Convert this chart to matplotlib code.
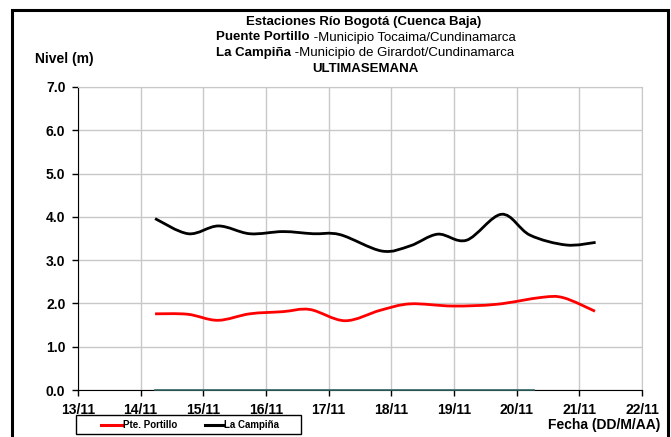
import matplotlib.pyplot as plt
import numpy as np
from matplotlib.patches import Rectangle, PathPatch
from matplotlib.path import Path
from matplotlib.lines import Line2D

# datos (dia de noviembre, nivel en m)
dias_campina = [14.23, 14.76, 15.24, 15.74, 16.27, 16.75, 17.18, 17.85,
                18.30, 18.74, 19.20, 19.76, 20.21, 20.79, 21.26]
nivel_campina = [3.96, 3.61, 3.79, 3.61, 3.66, 3.61, 3.59, 3.21,
                 3.33, 3.60, 3.46, 4.06, 3.58, 3.35, 3.41]

dias_portillo = [14.23, 14.75, 15.23, 15.74, 16.27, 16.70, 17.26, 17.82,
                 18.30, 18.98, 19.68, 20.40, 20.75, 21.25]
nivel_portillo = [1.76, 1.75, 1.61, 1.76, 1.81, 1.86, 1.60, 1.84,
                  1.99, 1.94, 1.98, 2.14, 2.13, 1.82]

# serie sin datos (en cero)
dias_cero = [14.23, 20.28]
nivel_cero = [0.0, 0.0]

ticks_x = list(range(13, 23))
etiquetas_x = [f'{d}/11' for d in ticks_x]
ticks_y = [0, 1, 2, 3, 4, 5, 6, 7]

plt.rcParams['font.family'] = ['Liberation Sans', 'DejaVu Sans']


def linea_suave(ax, xs, ys, **kw):
    # linea suavizada tipo Excel (Catmull-Rom -> Bezier cubica)
    p = np.column_stack([xs, ys])
    verts = [p[0]]
    codes = [Path.MOVETO]
    for i in range(len(p) - 1):
        p0 = p[i - 1] if i > 0 else p[i]
        p3 = p[i + 2] if i + 2 < len(p) else p[i + 1]
        c1 = p[i] + (p[i + 1] - p0) / 6
        c2 = p[i + 1] - (p3 - p[i]) / 6
        verts += [c1, c2, p[i + 1]]
        codes += [Path.CURVE4] * 3
    ax.add_patch(PathPatch(Path(verts, codes), fill=False, capstyle='butt', joinstyle='round', **kw))


fig = plt.figure(figsize=(6.71, 4.37), dpi=100)
ax = fig.add_axes([78 / 671, 1 - 390 / 437, 564 / 671, 303 / 437])

ax.plot(dias_cero, nivel_cero, color='#336666', lw=1.2, zorder=3, clip_on=False)
linea_suave(ax, dias_portillo, nivel_portillo, edgecolor='#ff0000', lw=2.0, zorder=4)
linea_suave(ax, dias_campina, nivel_campina, edgecolor='black', lw=2.0, zorder=4)

ax.set_xlim(13, 22)
ax.set_ylim(0, 7)
ax.set_xticks(ticks_x)
ax.set_xticklabels(etiquetas_x)
ax.set_yticks(ticks_y)
ax.set_yticklabels([f'{v:.1f}' for v in ticks_y])
ax.grid(True, color='#c8c8c8', lw=1.0)
ax.set_axisbelow(True)
for lab in ax.get_xticklabels() + ax.get_yticklabels():
    lab.set_fontweight('bold')
    lab.set_fontsize(10)
ax.tick_params(axis='both', direction='out', length=4, width=1, colors='black', pad=5)
ax.spines['top'].set_color('#c8c8c8')
ax.spines['right'].set_color('#c8c8c8')

# titulos
fs = 9.5
fig.text(364 / 671, 1 - 22.5 / 437, 'Estaciones Río Bogotá (Cuenca Baja)', ha='center', va='center',
         fontsize=fs, fontweight='bold')
fig.text(365 / 671, 1 - 68.5 / 437, 'ULTIMASEMANA', ha='center', va='center', fontsize=fs, fontweight='bold')

renderer = fig.canvas.get_renderer()
for y, negrita, normal, cx in [(37.5, 'Puente Portillo', ' -Municipio Tocaima/Cundinamarca', 366),
                               (53, 'La Campiña', ' -Municipio de Girardot/Cundinamarca', 365)]:
    t1 = fig.text(0, 1 - y / 437, negrita, ha='left', va='center', fontsize=fs, fontweight='bold')
    t2 = fig.text(0, 1 - y / 437, normal, ha='left', va='center', fontsize=fs)
    w1 = t1.get_window_extent(renderer).width
    w2 = t2.get_window_extent(renderer).width
    x0 = cx - (w1 + w2) / 2
    t1.set_x(x0 / 671)
    t2.set_x((x0 + w1) / 671)

fig.text(35 / 671, 1 - 58.5 / 437, 'Nivel (m)', ha='left', va='center', fontsize=10, fontweight='bold')
fig.text(660 / 671, 1 - 425 / 437, 'Fecha (DD/M/AA)', ha='right', va='center', fontsize=10, fontweight='bold')

# leyenda
fig.patches.append(Rectangle((76 / 671, 1 - 434 / 437), 225 / 671, 19 / 437, transform=fig.transFigure,
                             fill=False, edgecolor='black', lw=1.0, figure=fig))
ly = 1 - 424.5 / 437
for (xa, xb), color, nombre in [((101, 122), '#ff0000', 'Pte. Portillo'), ((205, 223), 'black', 'La Campiña')]:
    fig.lines.append(Line2D([xa / 671, xb / 671], [ly, ly], transform=fig.transFigure,
                            color=color, lw=2.2, figure=fig))
    fig.text((xb + 1) / 671, ly, nombre, ha='left', va='center', fontsize=7, fontweight='bold')

# marco exterior
fig.patches.append(Rectangle((12 / 671, -0.05), 656 / 671, 1.05 - 10 / 437, transform=fig.transFigure,
                             fill=False, edgecolor='black', lw=2.2, figure=fig))

fig.savefig('out.png', dpi=100)
